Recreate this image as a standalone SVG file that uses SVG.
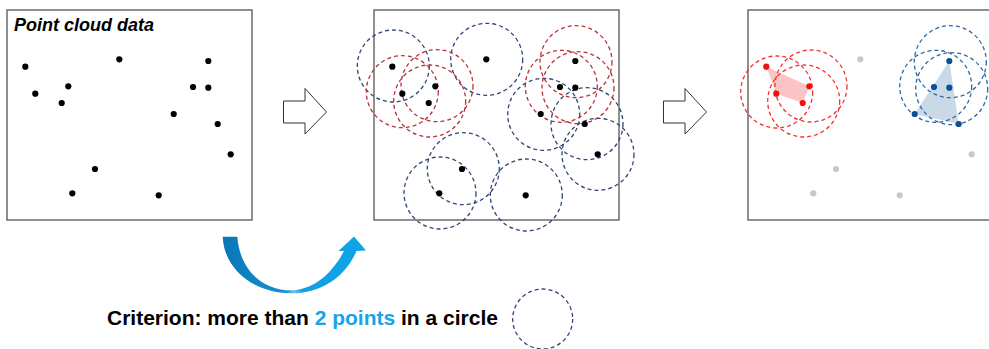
<svg xmlns="http://www.w3.org/2000/svg" width="989" height="349" viewBox="0 0 989 349">
<style>
.panel{fill:#fff;stroke:#555;stroke-width:1.3}
.pt{fill:#000}
.gpt{fill:#c8c8c8}
.rpt{fill:#ee1111}
.bpt{fill:#0d4f94}
.cn{fill:none;stroke:#2f4676;stroke-width:1.3;stroke-dasharray:4 3}
.cr{fill:none;stroke:#b8323a;stroke-width:1.3;stroke-dasharray:4 3}
.cr2{fill:none;stroke:#f23333;stroke-width:1.3;stroke-dasharray:4 3}
.cb2{fill:none;stroke:#2e68a4;stroke-width:1.3;stroke-dasharray:4 3}
.blk{fill:#fff;stroke:#333;stroke-width:1}
.t{font-family:"Liberation Sans",Arial,sans-serif;font-weight:bold}
</style>
<defs>
<linearGradient id="ga" x1="222" y1="0" x2="366" y2="0" gradientUnits="userSpaceOnUse">
<stop offset="0" stop-color="#0877b6"/>
<stop offset="0.45" stop-color="#1891d2"/>
<stop offset="0.5" stop-color="#6fc2ec"/>
<stop offset="0.56" stop-color="#179ee0"/>
<stop offset="1" stop-color="#0aa5e8"/>
</linearGradient>
</defs>

<g id="panel1">
<rect class="panel" x="7" y="10" width="245" height="210"/>
<text class="t" x="14" y="31" font-size="18" font-style="italic" fill="#000">Point cloud data</text>
<circle class="pt" cx="25.3" cy="66.7" r="3.1"/>
<circle class="pt" cx="35.3" cy="93.7" r="3.1"/>
<circle class="pt" cx="68.3" cy="86.3" r="3.1"/>
<circle class="pt" cx="61.7" cy="103" r="3.1"/>
<circle class="pt" cx="119.3" cy="59.3" r="3.1"/>
<circle class="pt" cx="208.3" cy="61" r="3.1"/>
<circle class="pt" cx="193" cy="87" r="3.1"/>
<circle class="pt" cx="208.3" cy="87.7" r="3.1"/>
<circle class="pt" cx="173.7" cy="114" r="3.1"/>
<circle class="pt" cx="217.7" cy="124" r="3.1"/>
<circle class="pt" cx="230.7" cy="154.3" r="3.1"/>
<circle class="pt" cx="95" cy="169" r="3.1"/>
<circle class="pt" cx="72.3" cy="193.3" r="3.1"/>
<circle class="pt" cx="158.7" cy="195.3" r="3.1"/>
</g>

<g id="panel2">
<rect class="panel" x="374" y="10" width="245" height="210"/>
<circle class="cn" cx="393.3" cy="66" r="36"/>
<circle class="cn" cx="486.7" cy="59.3" r="36"/>
<circle class="cn" cx="543.7" cy="114.3" r="36"/>
<circle class="cn" cx="587" cy="123.7" r="36"/>
<circle class="cn" cx="598" cy="154.3" r="36"/>
<circle class="cn" cx="463.3" cy="168.7" r="36"/>
<circle class="cn" cx="440" cy="193" r="36"/>
<circle class="cn" cx="526.3" cy="195" r="36"/>
<circle class="cr" cx="402.3" cy="91.7" r="36"/>
<circle class="cr" cx="437" cy="85.7" r="36"/>
<circle class="cr" cx="429.7" cy="101" r="36"/>
<circle class="cr" cx="576" cy="61.7" r="36"/>
<circle class="cr" cx="561.3" cy="86.3" r="36"/>
<circle class="cr" cx="578" cy="87.7" r="36"/>
<circle class="pt" cx="392.3" cy="66.7" r="3.1"/>
<circle class="pt" cx="402.3" cy="93.7" r="3.1"/>
<circle class="pt" cx="435.3" cy="86.3" r="3.1"/>
<circle class="pt" cx="428.7" cy="103" r="3.1"/>
<circle class="pt" cx="486.3" cy="59.3" r="3.1"/>
<circle class="pt" cx="575.3" cy="61" r="3.1"/>
<circle class="pt" cx="560" cy="87" r="3.1"/>
<circle class="pt" cx="575.3" cy="87.7" r="3.1"/>
<circle class="pt" cx="540.7" cy="114" r="3.1"/>
<circle class="pt" cx="584.7" cy="124" r="3.1"/>
<circle class="pt" cx="597.7" cy="154.3" r="3.1"/>
<circle class="pt" cx="462" cy="169" r="3.1"/>
<circle class="pt" cx="439.3" cy="193.3" r="3.1"/>
<circle class="pt" cx="525.7" cy="195.3" r="3.1"/>
</g>

<g id="panel3">
<rect class="panel" x="748" y="10" width="245" height="210"/>
<polygon points="766.3,66.7 809.3,86.3 802.7,103 776.3,93.7" fill="#fcc4c4"/>
<polygon points="949.3,61 958.7,124 914.7,114" fill="#c9d9e8"/>
<circle class="cr2" cx="776.7" cy="92" r="36"/>
<circle class="cr2" cx="811" cy="86" r="36"/>
<circle class="cr2" cx="803.7" cy="101" r="36"/>
<circle class="cb2" cx="935.7" cy="86.3" r="36"/>
<circle class="cb2" cx="950.3" cy="61.7" r="36"/>
<circle class="cb2" cx="951.7" cy="88.7" r="36"/>
<circle class="rpt" cx="766.3" cy="66.7" r="3.1"/>
<circle class="rpt" cx="776.3" cy="93.7" r="3.1"/>
<circle class="rpt" cx="809.3" cy="86.3" r="3.1"/>
<circle class="rpt" cx="802.7" cy="103" r="3.1"/>
<circle class="bpt" cx="949.3" cy="61" r="3.1"/>
<circle class="bpt" cx="934" cy="87" r="3.1"/>
<circle class="bpt" cx="949.3" cy="87.7" r="3.1"/>
<circle class="bpt" cx="914.7" cy="114" r="3.1"/>
<circle class="bpt" cx="958.7" cy="124" r="3.1"/>
<circle class="gpt" cx="860.3" cy="59.3" r="3.1"/>
<circle class="gpt" cx="971.7" cy="154.3" r="3.1"/>
<circle class="gpt" cx="836" cy="169" r="3.1"/>
<circle class="gpt" cx="813.3" cy="193.3" r="3.1"/>
<circle class="gpt" cx="899.7" cy="195.3" r="3.1"/>
</g>

<g id="connectors">
<polygon class="blk" points="283.5,101 305,101 305,88.5 326.5,112 305,134 305,123 283.5,123"/>
<polygon class="blk" points="663.5,101 685,101 685,88.5 706.5,112 685,134 685,123 663.5,123"/>
<path fill="url(#ga)" d="M222.7,236.7 C224,268 252,293.3 292,293.3 C320,293.3 345,278 356.5,251 L366,250.5 L354,236.5 L338.5,251 L344,251 C333,272 315,289.5 292,290.3 C262,290.5 240,270 237.3,236.7 Z"/>
</g>

<g id="legend">
<text class="t" x="107" y="325" font-size="21" fill="#000">Criterion: more than <tspan fill="#18a4e8">2 points</tspan> in a circle</text>
<circle class="cn" cx="542.7" cy="319" r="30"/>
</g>
</svg>
